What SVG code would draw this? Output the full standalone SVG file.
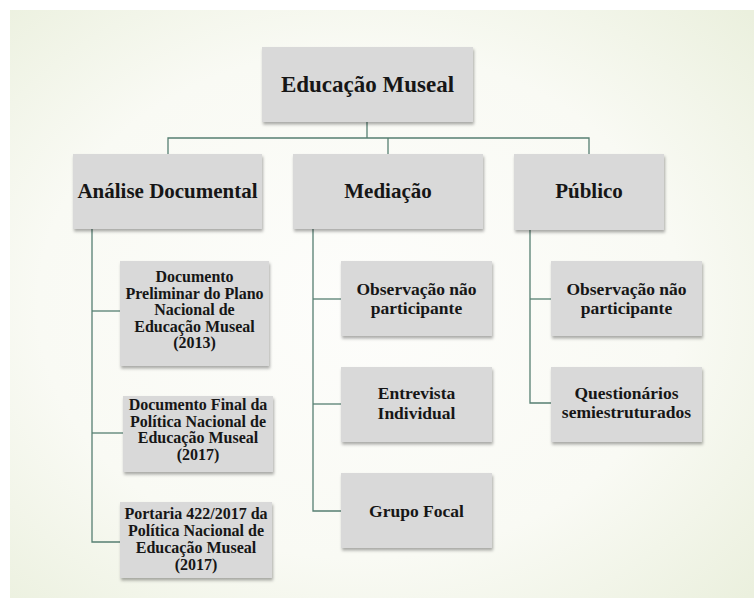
<svg xmlns="http://www.w3.org/2000/svg" width="754" height="598" viewBox="0 0 754 598">
  <defs>
    <radialGradient id="bg" cx="0.47" cy="0.5" r="0.72">
      <stop offset="0" stop-color="#fdfdfb"/>
      <stop offset="0.6" stop-color="#f9faf4"/>
      <stop offset="1" stop-color="#ebf0de"/>
    </radialGradient>
    <filter id="shadow" x="-10%" y="-10%" width="125%" height="130%">
      <feDropShadow dx="1" dy="2.5" stdDeviation="1.4" flood-color="#000" flood-opacity="0.32"/>
    </filter>
  </defs>
  <style>
    .box { fill: #d9d9d9; filter: url(#shadow); }
    text { font-family: 'Liberation Serif', 'DejaVu Serif', 'Times New Roman', serif; font-weight: 700; fill: #161616; text-anchor: middle; }
    .t1 { font-size: 23px; }
    .t2 { font-size: 21px; }
    .t3 { font-size: 16px; }
    .t4 { font-size: 17.5px; }
    .conn { fill: none; stroke: #567f72; stroke-width: 1.3; }
  </style>

  <!-- page background -->
  <rect x="0" y="0" width="754" height="598" fill="#ffffff"/>
  <rect x="10" y="10" width="744" height="588" fill="url(#bg)"/>

  <!-- connectors -->
  <g id="connectors" class="conn">
    <path d="M367 122 V138"/>
    <path d="M168 154 V138 H589 V154"/>
    <path d="M388 138 V154"/>
    <!-- Análise Documental branch -->
    <path d="M92 229 V542 H120"/>
    <path d="M92 311 H120"/>
    <path d="M92 433 H123"/>
    <!-- Mediação branch -->
    <path d="M313 229 V511 H341"/>
    <path d="M313 299 H341"/>
    <path d="M313 404 H341"/>
    <!-- Público branch -->
    <path d="M530 230 V403 H551"/>
    <path d="M530 299 H551"/>
  </g>

  <!-- root -->
  <g id="educacao-museal">
    <rect class="box" x="262" y="47" width="211" height="75"/>
    <text class="t1" x="367.5" y="92" font-family="Liberation Serif, serif">Educação Museal</text>
  </g>

  <!-- second level -->
  <g id="analise-documental">
    <rect class="box" x="73" y="154" width="189" height="75"/>
    <text class="t2" x="167.5" y="198">Análise Documental</text>
  </g>
  <g id="mediacao">
    <rect class="box" x="293" y="154" width="190" height="75"/>
    <text class="t2" x="388" y="198">Mediação</text>
  </g>
  <g id="publico">
    <rect class="box" x="514" y="154" width="150" height="76"/>
    <text class="t2" x="589" y="198">Público</text>
  </g>

  <!-- Análise Documental children -->
  <g id="doc-preliminar">
    <rect class="box" x="120" y="261" width="149" height="105"/>
    <text class="t3" x="194.5" y="282">Documento</text>
    <text class="t3" x="194.5" y="298.5">Preliminar do Plano</text>
    <text class="t3" x="194.5" y="315">Nacional de</text>
    <text class="t3" x="194.5" y="331.5">Educação Museal</text>
    <text class="t3" x="194.5" y="348">(2013)</text>
  </g>
  <g id="doc-final">
    <rect class="box" x="123" y="396" width="150" height="76"/>
    <text class="t3" x="198" y="410">Documento Final da</text>
    <text class="t3" x="198" y="426.7">Política Nacional de</text>
    <text class="t3" x="198" y="443.4">Educação Museal</text>
    <text class="t3" x="198" y="460">(2017)</text>
  </g>
  <g id="portaria">
    <rect class="box" x="120" y="502" width="152" height="76"/>
    <text class="t3" x="196" y="519">Portaria 422/2017 da</text>
    <text class="t3" x="196" y="536">Política Nacional de</text>
    <text class="t3" x="196" y="553">Educação Museal</text>
    <text class="t3" x="196" y="570">(2017)</text>
  </g>

  <!-- Mediação children -->
  <g id="med-observacao">
    <rect class="box" x="341" y="261" width="151" height="75"/>
    <text class="t4" x="416.5" y="295">Observação não</text>
    <text class="t4" x="416.5" y="314">participante</text>
  </g>
  <g id="med-entrevista">
    <rect class="box" x="341" y="367" width="151" height="75"/>
    <text class="t4" x="416.5" y="399">Entrevista</text>
    <text class="t4" x="416.5" y="419">Individual</text>
  </g>
  <g id="med-grupo-focal">
    <rect class="box" x="341" y="473" width="151" height="75"/>
    <text class="t4" x="416.5" y="517">Grupo Focal</text>
  </g>

  <!-- Público children -->
  <g id="pub-observacao">
    <rect class="box" x="551" y="261" width="151" height="75"/>
    <text class="t4" x="626.5" y="295">Observação não</text>
    <text class="t4" x="626.5" y="314">participante</text>
  </g>
  <g id="pub-questionarios">
    <rect class="box" x="551" y="367" width="151" height="75"/>
    <text class="t4" x="626.5" y="399">Questionários</text>
    <text class="t4" x="626.5" y="418">semiestruturados</text>
  </g>
</svg>
